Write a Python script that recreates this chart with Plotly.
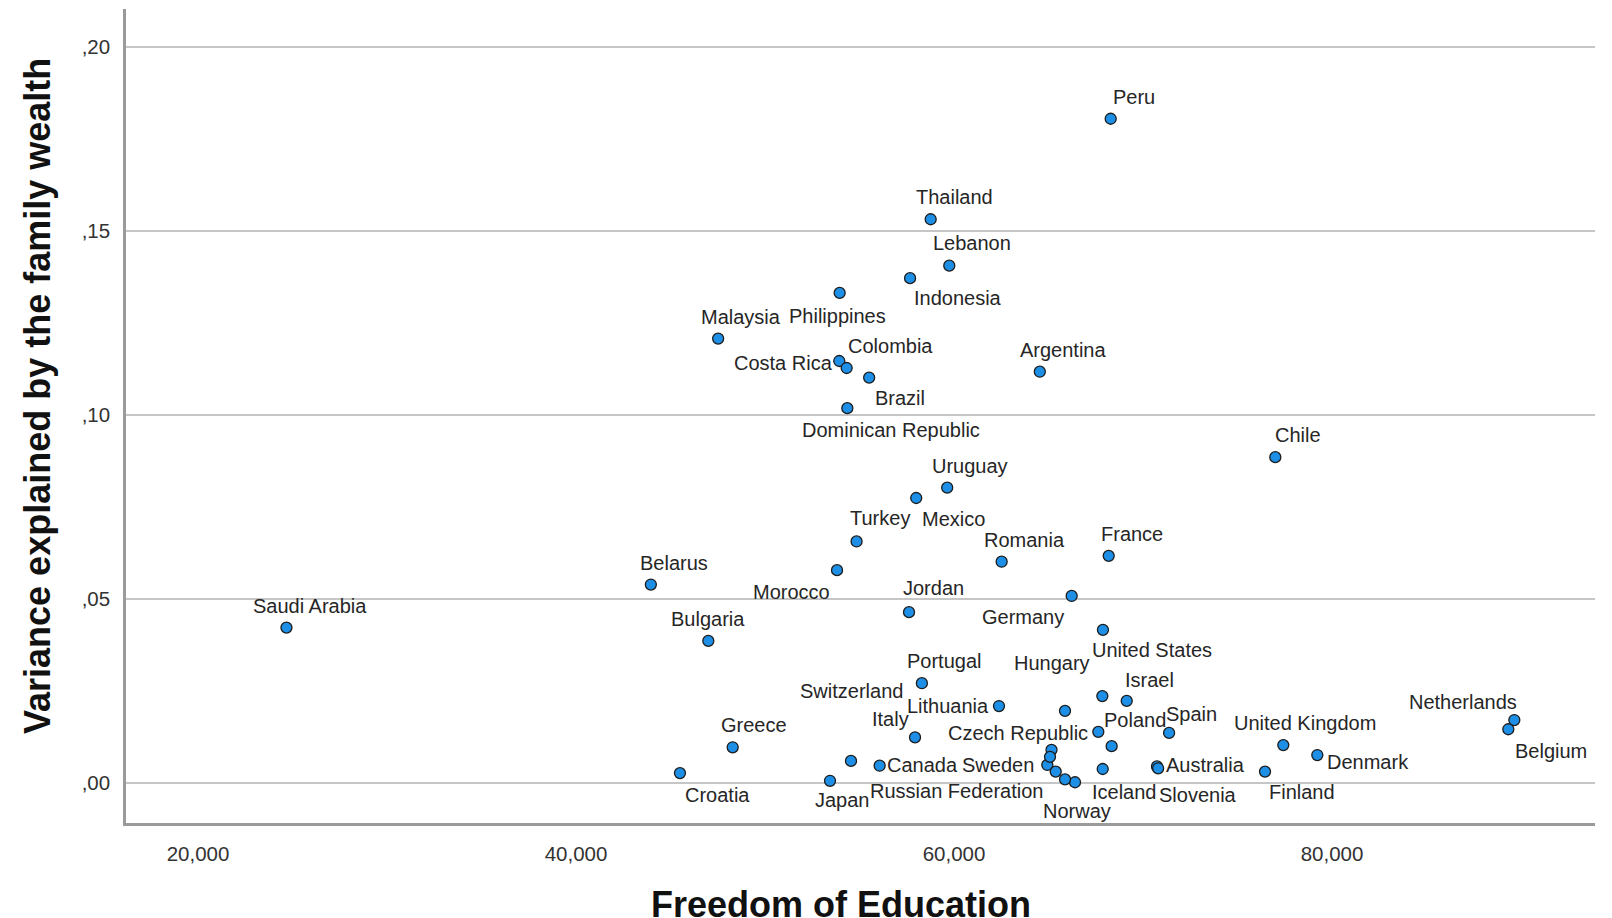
import plotly.graph_objects as go

countries = ["Saudi Arabia", "Belarus", "Bulgaria", "Croatia", "Greece", "Malaysia", "Philippines",
             "Costa Rica", "Colombia", "Brazil", "Dominican Republic", "Indonesia", "Thailand", "Lebanon",
             "Peru", "Argentina", "Chile", "Uruguay", "Mexico", "Turkey", "Morocco", "Romania", "France",
             "Jordan", "Germany", "United States", "Portugal", "Lithuania", "Italy", "Japan", "Switzerland",
             "Canada", "Hungary", "", "Israel", "Czech Republic", "Poland", "Spain", "Iceland", "Australia",
             "Slovenia", "Sweden", "Russian Federation", "Norway", "", "", "", "United Kingdom", "Denmark",
             "Finland", "Netherlands", "Belgium"]

freedom_of_education = [24680, 43960, 47000, 45500, 48290, 47520, 53950,
                        53930, 54320, 55510, 54355, 57675, 58765, 59750,
                        68290, 64540, 77000, 59640, 58000, 54845, 53810, 62520, 68185,
                        57620, 66225, 67880, 58300, 62380, 57937, 53440, 54550,
                        56065, 65873, 67847, 69138, 67635, 68341, 71380, 67868, 70740,
                        70800, 64937, 65381, 66402, 65159, 65079, 65873, 77423, 79222,
                        76455, 89646, 89328]

variance_wealth = [0.0422, 0.0539, 0.0386, 0.0027, 0.0097, 0.1207, 0.1331,
                   0.1146, 0.1127, 0.1101, 0.1018, 0.1371, 0.1531, 0.1405,
                   0.1804, 0.1117, 0.0885, 0.0802, 0.0774, 0.0656, 0.0578, 0.0601, 0.0617,
                   0.0464, 0.0508, 0.0416, 0.0271, 0.0209, 0.0124, 0.0006, 0.0060,
                   0.0047, 0.0196, 0.0236, 0.0223, 0.0139, 0.0100, 0.0136, 0.0038, 0.0045,
                   0.0040, 0.0049, 0.0031, 0.0002, 0.0090, 0.0071, 0.0010, 0.0103, 0.0076,
                   0.0031, 0.0171, 0.0146]

x_tick_values = [20000, 40000, 60000, 80000]
x_tick_labels = ["20,000", "40,000", "60,000", "80,000"]
y_tick_values = [0.0, 0.05, 0.10, 0.15, 0.20]
y_tick_labels = [",00", ",05", ",10", ",15", ",20"]

# label placement offsets in pixels (dx right, dy down), styling only
label_offsets = [(24, -22), (23, -22), (0, -22), (38, 22), (21, -22), (23, -22), (-2, 23),
                 (-56, 2), (44, -22), (31, 20), (44, 22), (48, 20), (24, -22), (23, -23),
                 (23, -22), (23, -22), (23, -22), (23, -22), (37, 21), (23, -23), (-46, 22), (23, -22), (23, -22),
                 (24, -24), (-49, 21), (49, 20), (23, -22), (-51, 0), (-25, -18), (12, 19), (0, -70),
                 (43, -1), (-13, -48), (0, 0), (23, -21), (-80, 1), (23, -26), (22, -19), (22, 23), (49, -1),
                 (40, 27), (-49, 0), (-99, 19), (2, 29), (0, 0), (0, 0), (0, 0), (22, -22), (51, 7),
                 (37, 20), (-51, -18), (43, 22)]

FONT = "Liberation Sans, Arial, sans-serif"

fig = go.Figure()
fig.add_trace(go.Scatter(
    x=freedom_of_education, y=variance_wealth, mode="markers",
    marker=dict(size=11, color="#1e8fe6", line=dict(color="#1c1c1c", width=1.3)),
    hoverinfo="text", text=countries, showlegend=False, cliponaxis=False,
))

annotations = []
for name, xv, yv, (dx, dy) in zip(countries, freedom_of_education, variance_wealth, label_offsets):
    if not name:
        continue
    annotations.append(dict(x=xv, y=yv, xref="x", yref="y", text=name, showarrow=False,
                            xshift=dx, yshift=-dy,
                            font=dict(family=FONT, size=20, color="#262626")))

annotations.append(dict(x=(841 - 126) / 1469, y=0, xref="paper", yref="paper", yanchor="middle",
                        xanchor="center", yshift=-81, showarrow=False,
                        text="<b>Freedom of Education</b>",
                        font=dict(family=FONT, size=36, color="#111111")))
annotations.append(dict(x=0, y=(823 - 396) / 814, xref="paper", yref="paper", xanchor="center",
                        yanchor="middle", xshift=-89, showarrow=False, textangle=-90,
                        text="<b>Variance explained by the family wealth</b>",
                        font=dict(family=FONT, size=36, color="#111111")))

fig.update_layout(
    width=1612, height=918,
    margin=dict(l=126, r=17, t=9, b=95),
    paper_bgcolor="white", plot_bgcolor="white",
    annotations=annotations,
    font=dict(family=FONT),
)
fig.update_xaxes(range=[16190, 93915], tickvals=x_tick_values, ticktext=x_tick_labels,
                 showgrid=False, zeroline=False, showline=True, linecolor="#9a9a9a", linewidth=2.5,
                 ticks="", ticklabelstandoff=11,
                 tickfont=dict(family=FONT, size=20.5, color="#333333"))
fig.update_yaxes(range=[-0.01086, 0.2102], tickvals=y_tick_values, ticktext=y_tick_labels,
                 showgrid=True, gridcolor="#c6c6c6", gridwidth=1.6, zeroline=False,
                 showline=True, linecolor="#9a9a9a", linewidth=2.5, ticks="", ticklabelstandoff=9,
                 tickfont=dict(family=FONT, size=20.5, color="#333333"))

fig.write_html("out.html", config={"displayModeBar": False},
               post_script="document.body.style.margin='0';document.body.style.overflow='hidden';")
